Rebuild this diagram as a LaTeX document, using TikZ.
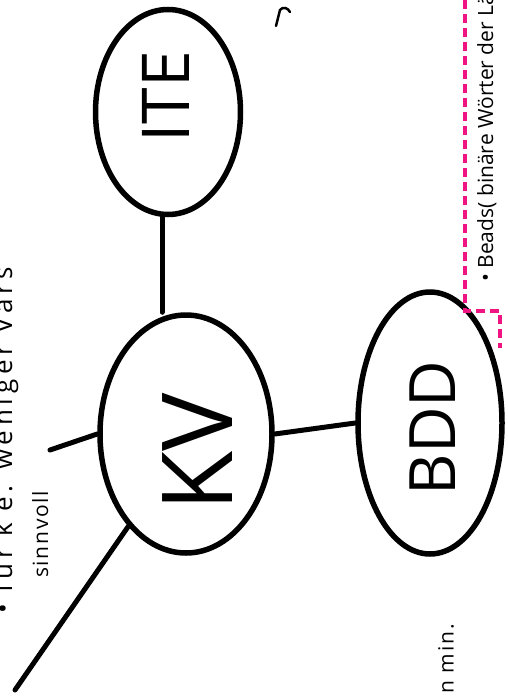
\documentclass[tikz,border=0pt]{standalone}
\usepackage{fontspec}
\setmainfont{Open Sans}
\usetikzlibrary{shapes.geometric}
\begin{document}
\begin{tikzpicture}[x=1pt,y=-1pt,
  blob/.style={ellipse,draw,line width=5.5pt,inner sep=0pt},
  edge/.style={line width=5pt,line cap=round},
  note/.style={rotate=90,anchor=north west,inner sep=0pt,font=\fontsize{21}{21}\selectfont},
  big/.style={rotate=90,inner sep=0pt}]
\useasboundingbox (0,0) rectangle (508,698);
\clip (0,0) rectangle (508,698);
% the three bubbles
\node[blob,minimum width=145pt,minimum height=205pt] (ite) at (168,112) {};
\node[blob,minimum width=172pt,minimum height=238pt] (kv) at (186,434) {};
\node[blob,minimum width=144pt,minimum height=262pt] (bdd) at (430,423) {};
\node[big,font=\fontsize{66}{66}\selectfont] (itet) at (166,97) {ITE};
\node[big,font=\fontsize{98}{98}\selectfont] (kvt) at (198,452) {KV};
\node[big,font=\fontsize{64}{64}\selectfont] (bddt) at (433,428) {BDD};
% connectors
\coordinate (kvl) at (50,450);
\coordinate (kvd) at (15,690);
\draw[edge] ([xshift=-6pt]ite.south) -- ([xshift=-6pt]ite.south |- kv.north);
\draw[edge] (kv.east) -- (bdd.west);
\draw[edge] (kv.west) -- (kvl);
\draw[edge] (kv.-122) -- (kvd);
% pink dashed frame
\draw[line width=3.5pt,color={rgb,255:red,240;green,20;blue,130},dash pattern=on 9pt off 5pt]
  (465,0) -- (465,311) -- (500,311) -- (500,348);
% notes
\node[note] (n1) at (477,282) {• Beads( binäre Wörter der Länge};
\node[note,font=\fontsize{26}{26}\selectfont\addfontfeature{LetterSpace=18}] (n2) at (-8,614) {• für k e. weniger Vars};
\node[note,font=\fontsize{21}{21}\selectfont\addfontfeature{LetterSpace=8}] (n3) at (32,578) {sinnvoll};
\node[note,font=\fontsize{21}{21}\selectfont\addfontfeature{LetterSpace=10}] (n4) at (438,694) {n min.};
\draw[line width=2.5pt,line cap=round] (276,26) -- (280,10) .. controls (283,6) and (288,8) .. (290,12);
\end{tikzpicture}
\end{document}
